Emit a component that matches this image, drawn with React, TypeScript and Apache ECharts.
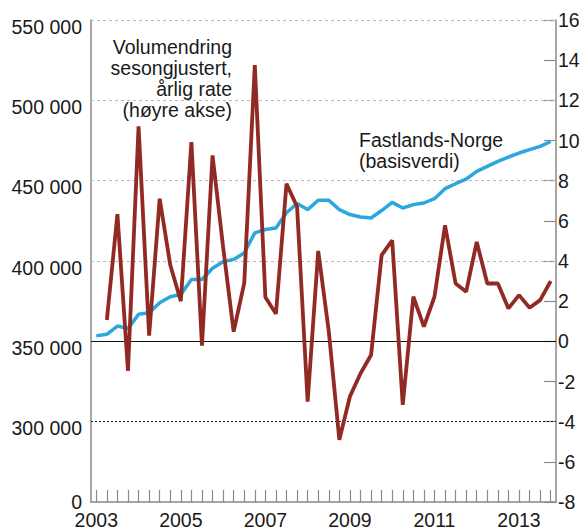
import React, { useEffect, useRef } from "react";
import * as echarts from "echarts";

const years = [2003, 2004, 2005, 2006, 2007, 2008, 2009, 2010, 2011, 2012, 2013];
const quarterNames = ["K1", "K2", "K3", "K4"];
const categories: string[] = [];
years.forEach((y) => quarterNames.forEach((q) => categories.push(y + q)));

// Fastlands-Norge (basisverdi), left axis
const mainlandLevel = [
  353400, 354400, 359500, 357900, 366800, 367800, 374000, 377800,
  379200, 388500, 388500, 395500, 399500, 401000, 405000, 417500,
  419600, 420600, 430000, 435800, 432000, 437800, 437800, 432000,
  428900, 427400, 426800, 431400, 436500, 433000, 435100, 436100,
  438800, 445000, 448100, 451000, 455800, 458900, 462000, 464700,
  467200, 469300, 471300, 474400,
];

// Volumendring, sesongjustert, årlig rate (right axis)
const volumeChange = [
  null, 1.06, 6.33, -1.47, 10.7, 0.28, 7.1, 3.8,
  2.0, 9.92, -0.22, 9.26, 4.7, 0.48, 2.9, 13.75,
  2.2, 1.37, 7.85, 6.7, -3.0, 4.5, 0.5, -4.9,
  -2.75, -1.6, -0.68, 4.29, 5.03, -3.16, 2.22, 0.73,
  2.22, 5.78, 2.88, 2.47, 4.95, 2.88, 2.88, 1.64,
  2.3, 1.67, 2.05, 3.0,
];

const gridGray = [400000, 450000, 500000, 550000];
const zeroLine = 350000;
const dottedLine = 300000;
// the left axis is broken: its bottom (250 000 on the scale) is labelled 0
const brokenAxisBase = 250000;

const FONT = "'Liberation Sans', Arial, Helvetica, sans-serif";
const FS = 19.5;

function fmtThousands(v: number): string {
  return String(v).replace(/\B(?=(\d{3})+(?!\d))/g, " ");
}

export default function App() {
  const ref = useRef<HTMLDivElement>(null);
  useEffect(() => {
    if (!ref.current) return;
    const chart = echarts.init(ref.current, undefined, { renderer: "svg" });
    const axisGray = "#8a8a8a";
    const markData: any[] = [
      ...gridGray.map((v) => ({
        yAxis: v,
        lineStyle: { color: "#b8b8b8", width: 1, type: [3, 3] },
      })),
      { yAxis: zeroLine, lineStyle: { color: "#111", width: 1, type: "solid" } },
      { yAxis: dottedLine, lineStyle: { color: "#111", width: 1, type: [2, 2] } },
    ];
    const leftBase = {
      type: "value",
      min: brokenAxisBase,
      max: 550000,
      interval: 50000,
      position: "left",
      axisTick: { show: false },
      splitLine: { show: false },
    };
    chart.setOption({
      animation: false,
      backgroundColor: "#ffffff",
      grid: { left: 91, right: 28, top: 20, bottom: 27, containLabel: false },
      xAxis: {
        type: "category",
        data: categories,
        boundaryGap: true,
        axisLine: { show: true, onZero: false, lineStyle: { color: axisGray, width: 1.5 } },
        axisTick: {
          show: true,
          inside: true,
          length: 12,
          alignWithLabel: true,
          interval: 0,
          lineStyle: { color: axisGray, width: 1.2 },
        },
        axisLabel: {
          interval: 7,
          formatter: (v: string) => v.slice(0, 4),
          color: "#1a1a1a",
          fontFamily: FONT,
          fontSize: FS,
          lineHeight: 18,
          margin: 9,
        },
        splitLine: { show: false },
      },
      yAxis: [
        {
          ...leftBase,
          axisLine: { show: true, lineStyle: { color: axisGray, width: 1.5 } },
          axisLabel: {
            formatter: (v: number) => (v === brokenAxisBase ? "" : fmtThousands(v)),
            color: "#1a1a1a",
            fontFamily: FONT,
            fontSize: FS,
            lineHeight: 13,
            margin: 9,
            verticalAlign: "top",
          },
        },
        {
          ...leftBase,
          axisLine: { show: false },
          axisLabel: {
            formatter: (v: number) => (v === brokenAxisBase ? "0" : ""),
            color: "#1a1a1a",
            fontFamily: FONT,
            fontSize: FS,
            lineHeight: 14,
            margin: 9,
            padding: [0, 0, 2, 0],
            verticalAlign: "middle",
          },
        },
        {
          type: "value",
          min: -8,
          max: 16,
          interval: 2,
          position: "right",
          axisLine: { show: true, lineStyle: { color: axisGray, width: 1.5 } },
          axisTick: {
            show: true,
            inside: true,
            length: 12,
            lineStyle: { color: axisGray, width: 1.2 },
          },
          splitLine: { show: false },
          axisLabel: {
            color: "#1a1a1a",
            fontFamily: FONT,
            fontSize: FS,
            margin: 2,
            padding: [3, 0, 0, 0],
          },
        },
      ],
      series: [
        {
          name: "Fastlands-Norge (basisverdi)",
          type: "line",
          yAxisIndex: 0,
          data: mainlandLevel,
          showSymbol: false,
          symbol: "none",
          z: 3,
          lineStyle: { color: "#2ba6de", width: 3.5 },
          markLine: {
            silent: true,
            z: 1,
            symbol: ["none", "none"],
            label: { show: false },
            data: markData,
          },
        },
        {
          name: "Volumendring",
          type: "line",
          yAxisIndex: 2,
          data: volumeChange,
          showSymbol: false,
          symbol: "none",
          z: 4,
          lineStyle: { color: "#922a24", width: 3.8 },
        },
      ],
      graphic: [
        {
          type: "text",
          x: 232,
          y: 36.5,
          z: 10,
          style: {
            text: "Volumendring\nsesongjustert,\nårlig rate\n(høyre akse)",
            align: "right",
            verticalAlign: "top",
            lineHeight: 21,
            font: `${FS}px ${FONT}`,
            fill: "#1a1a1a",
          },
        },
        {
          type: "text",
          x: 359,
          y: 129.5,
          z: 10,
          style: {
            text: "Fastlands-Norge\n(basisverdi)",
            align: "left",
            verticalAlign: "top",
            lineHeight: 21,
            font: `${FS}px ${FONT}`,
            fill: "#1a1a1a",
          },
        },
      ],
    });
    return () => chart.dispose();
  }, []);
  return (
    <div
      ref={ref}
      style={{ position: "fixed", left: 0, top: 0, width: 584, height: 530, background: "#fff" }}
    />
  );
}
